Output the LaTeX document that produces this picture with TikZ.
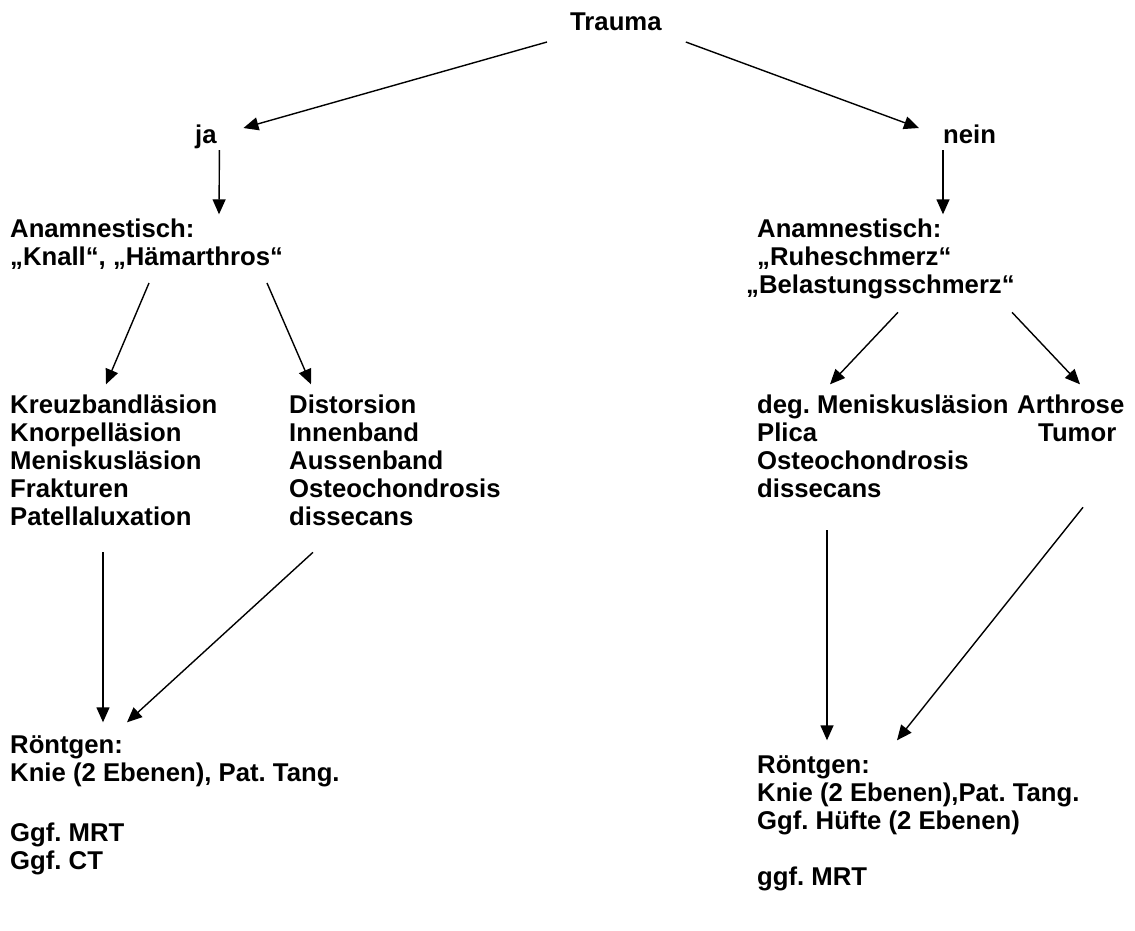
\documentclass[tikz,border=0pt]{standalone}
\usepackage{fontspec}
\setmainfont{Liberation Sans}
\usetikzlibrary{arrows.meta}
\frenchspacing

\begin{document}
\begin{tikzpicture}[x=1pt,y=-1pt,font=\fontsize{25.7}{28}\selectfont\bfseries,
  txt/.style={anchor=north west,inner sep=0pt,align=left},
  ar/.style={-{Triangle[length=15pt,width=13pt]},line width=1.4pt}]
\useasboundingbox[fill=white] (0,0) rectangle (1135,930);
% top
\node[txt] (trauma) at (570,12.3) {Trauma};
\node[txt] (ja) at (195,124.3) {ja};
\node[txt] (nein) at (943,124.3) {nein};
% anamnesis
\node[txt] (anaL) at (10,218.3) {Anamnestisch:\\„Knall“, „Hämarthros“};
\node[txt] (anaR) at (746,218.3) {\hspace*{11pt}Anamnestisch:\\\hspace*{11pt}„Ruheschmerz“\\„Belastungsschmerz“};
% diagnoses
\node[txt] (diagL) at (10,394.3) {Kreuzbandläsion\\Knorpelläsion\\Meniskusläsion\\Frakturen\\Patellaluxation};
\node[txt] (distL) at (289,394.3) {Distorsion\\Innenband\\Aussenband\\Osteochondrosis\\dissecans};
\node[txt] (diagR) at (757,394.3) {deg. Meniskusläsion\\Plica\\Osteochondrosis\\dissecans};
\node[txt] (arthR) at (1017,394.3) {Arthrose\\\hspace*{21pt}Tumor};
% imaging
\node[txt] (rtgL) at (10,735.3) {Röntgen:\\Knie (2 Ebenen), Pat. Tang.};
\node[txt] (mrtL) at (10,822.3) {Ggf. MRT\\Ggf. CT};
\node[txt] (rtgR) at (757,755.3) {Röntgen:\\Knie (2 Ebenen),Pat. Tang.\\Ggf. Hüfte (2 Ebenen)};
\node[txt] (mrtR) at (757,866.3) {ggf. MRT};
% arrows
\draw[ar] ([shift={(-23,29.7)}]trauma.north west) -- ([shift={(26.6,3.7)}]ja.north east);
\draw[ar] ([shift={(24,29.7)}]trauma.north east) -- ([shift={(-24,3.7)}]nein.north west);
\draw[ar] ([shift={(2.6,25.7)}]ja.north east) -- ([shift={(209,-4)}]anaL.north west);
\draw[ar] ([shift={(0,25.7)}]nein.north west) -- ([shift={(197,-4)}]anaR.north west);
\draw[ar] ([shift={(139,64.7)}]anaL.north west) -- ([shift={(96,-10)}]diagL.north west);
\draw[ar] ([shift={(257,64.7)}]anaL.north west) -- ([shift={(22,-10)}]distL.north west);
\draw[ar] ([shift={(152,94)}]anaR.north west) -- ([shift={(73,-10)}]diagR.north west);
\draw[ar] ([shift={(266,94)}]anaR.north west) -- ([shift={(63,-10)}]arthR.north west);
\draw[ar] ([shift={(93,158)}]diagL.north west) -- ([shift={(93,-13)}]rtgL.north west);
\draw[ar] ([shift={(24,158)}]distL.north west) -- ([shift={(117,-13)}]rtgL.north west);
\draw[ar] ([shift={(70,136)}]diagR.north west) -- ([shift={(70,-15)}]rtgR.north west);
\draw[ar] ([shift={(66,113)}]arthR.north west) -- ([shift={(140,-15)}]rtgR.north west);
\end{tikzpicture}
\end{document}
